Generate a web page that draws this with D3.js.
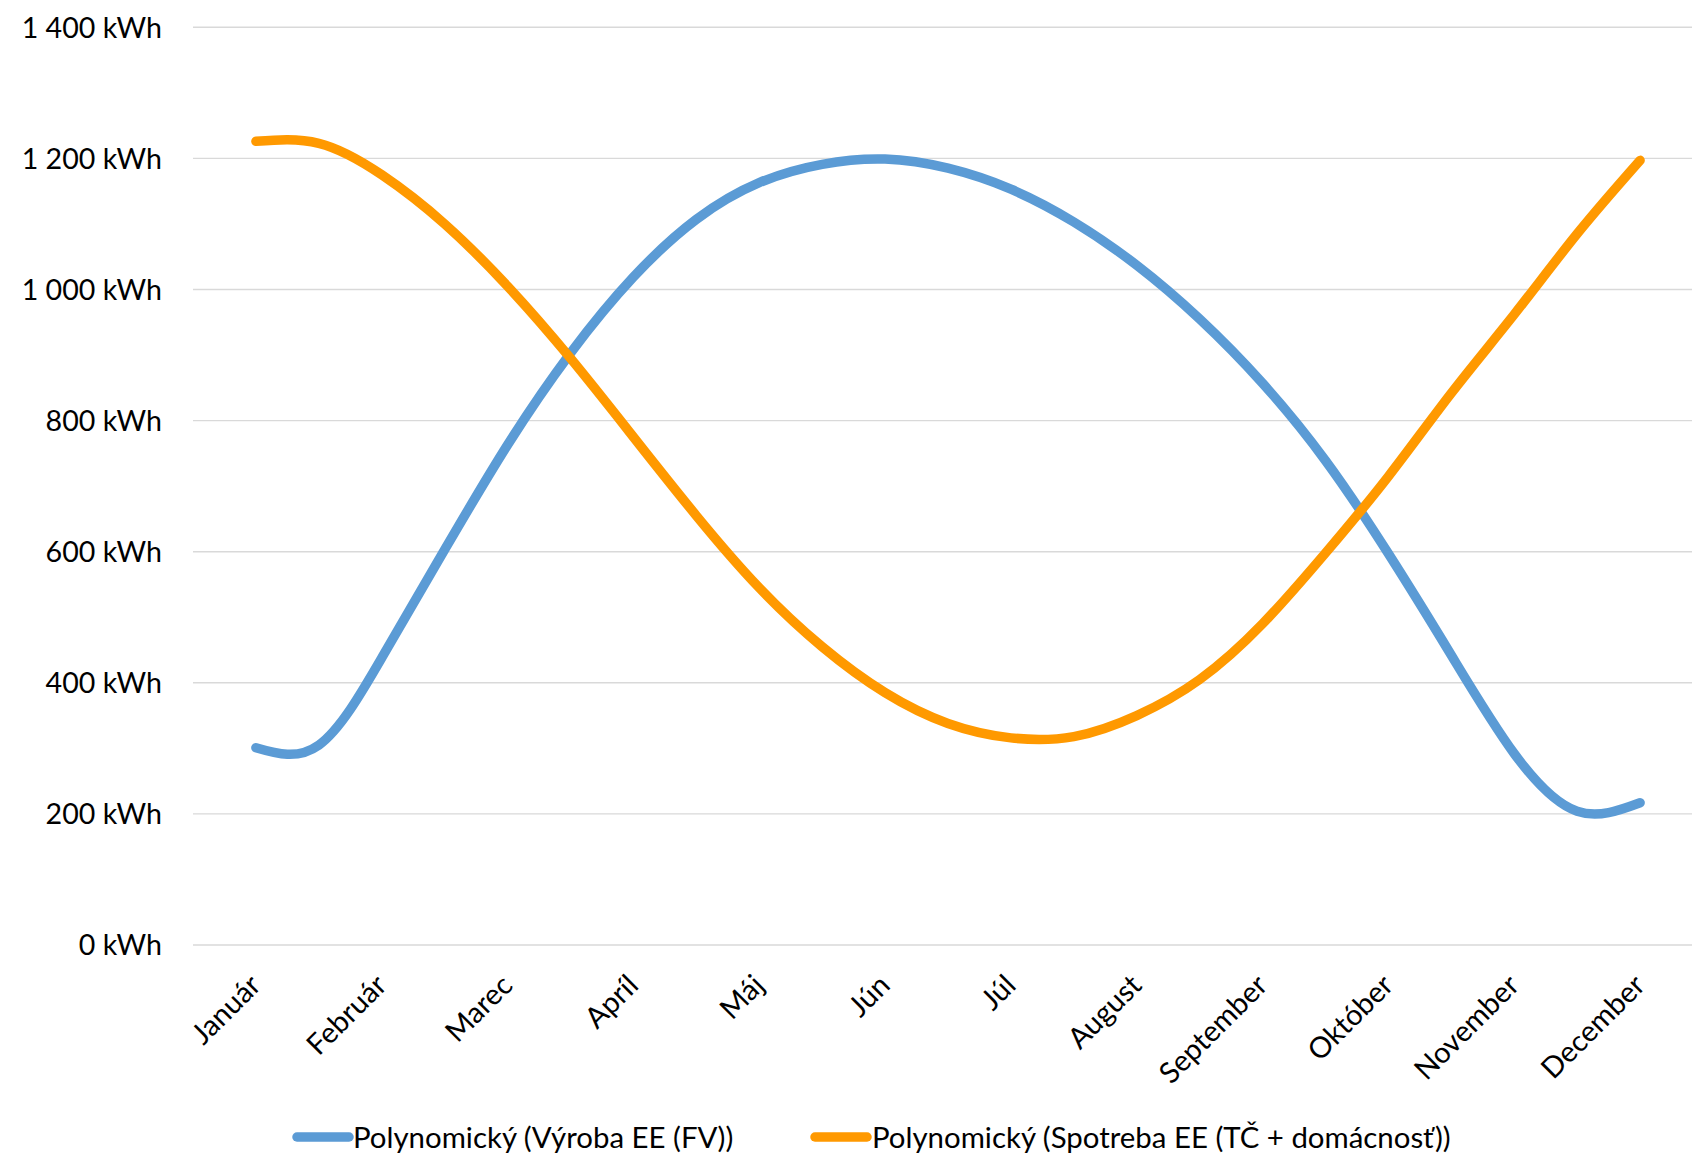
<!DOCTYPE html>
<html>
<head>
<meta charset="utf-8">
<script src="https://cdn.jsdelivr.net/npm/d3@7/dist/d3.min.js"></script>
<style>
  html, body { margin: 0; padding: 0; background: #ffffff; }
  svg { display: block; }
  text { font-family: Lato, "Open Sans", sans-serif; fill: #000; }
</style>
</head>
<body>
<svg id="chart" width="1692" height="1155"></svg>
<script>
// ---- data ----
const months = ["Január","Február","Marec","Apríl","Máj","Jún","Júl","August","September","Október","November","December"];
// sample positions along the month axis (0 = Január ... 11 = December)
const samplePos = [0,0.5,1,1.5,2,2.5,3,3.5,4,4.5,5,5.5,6,6.5,7,7.5,8,8.5,9,9.5,10,10.5,11];
const vyroba = [301,305,438,603,763,903,1019,1107,1163,1191,1199,1185,1153,1103,1037,955,857,739,597,442,292,204,217];
const spotreba = [1226,1223,1175,1100,1005,895,775,655,545,455,385,338,316,318,350,405,490,598,715,842,962,1085,1197];
const yTicks = [0,200,400,600,800,1000,1200,1400];
const seriesNames = ["Polynomický (Výroba EE (FV))","Polynomický (Spotreba EE (TČ + domácnosť))"];
const seriesColors = ["#5B9BD5","#FF9900"];

// ---- layout ----
const svg = d3.select("#chart");
const plotLeft = 193, plotRight = 1703, plotTop = 27.3, plotBottom = 945;

const x = d3.scalePoint().domain(months).range([plotLeft, plotRight]).padding(0.5);
const xPos = d3.scaleLinear().domain([0, months.length - 1]).range([x(months[0]), x(months[months.length - 1])]);
const y = d3.scaleLinear().domain([0, 1400]).range([plotBottom, plotTop]);

// gridlines
svg.append("g").selectAll("line").data(yTicks).join("line")
  .attr("x1", plotLeft).attr("x2", plotRight)
  .attr("y1", d => y(d)).attr("y2", d => y(d))
  .attr("stroke", "#D9D9D9").attr("stroke-width", 1.4);

// y axis labels
const fmt = v => d3.format(",")(v).replace(/,/g, "\u00A0") + " kWh";
const yAxis = d3.axisLeft(y).tickValues(yTicks).tickFormat(fmt).tickSize(0).tickPadding(0);
const yg = svg.append("g").attr("transform", `translate(162,0)`).call(yAxis);
yg.select(".domain").remove();
yg.selectAll("text").attr("font-family", "Lato").attr("font-size", 28.6).attr("fill", "#000").attr("dy", "0.34em");

// x axis labels
const xAxis = d3.axisBottom(x).tickSize(0).tickPadding(0);
const xg = svg.append("g").attr("transform", `translate(0,${plotBottom})`).call(xAxis);
xg.select(".domain").remove();
xg.selectAll("text")
  .attr("font-family", "Lato").attr("font-size", 29).attr("fill", "#000")
  .attr("text-anchor", "end")
  .attr("dy", null)
  .attr("y", 0)
  .attr("transform", "translate(-2,34) rotate(-45)")
  .attr("dominant-baseline", "central");

// lines
const line = d3.line().x((d, i) => xPos(samplePos[i])).y(d => y(d)).curve(d3.curveNatural);
[vyroba, spotreba].forEach((s, k) => {
  svg.append("path").datum(s)
    .attr("d", line)
    .attr("fill", "none")
    .attr("stroke", seriesColors[k])
    .attr("stroke-width", 9.5)
    .attr("stroke-linecap", "round")
    .attr("stroke-linejoin", "round");
});

// legend
const legendY = 1137;
const legendItems = [{x: 297, tx: 353}, {x: 815, tx: 872}];
legendItems.forEach((it, k) => {
  svg.append("line")
    .attr("x1", it.x).attr("x2", it.x + 52)
    .attr("y1", legendY).attr("y2", legendY)
    .attr("stroke", seriesColors[k]).attr("stroke-width", 9.5).attr("stroke-linecap", "round");
  svg.append("text")
    .attr("x", it.tx).attr("y", legendY).attr("dy", "0.36em")
    .attr("font-size", 29.4).attr("font-family", "Lato")
    .text(seriesNames[k]);
});
</script>
</body>
</html>
